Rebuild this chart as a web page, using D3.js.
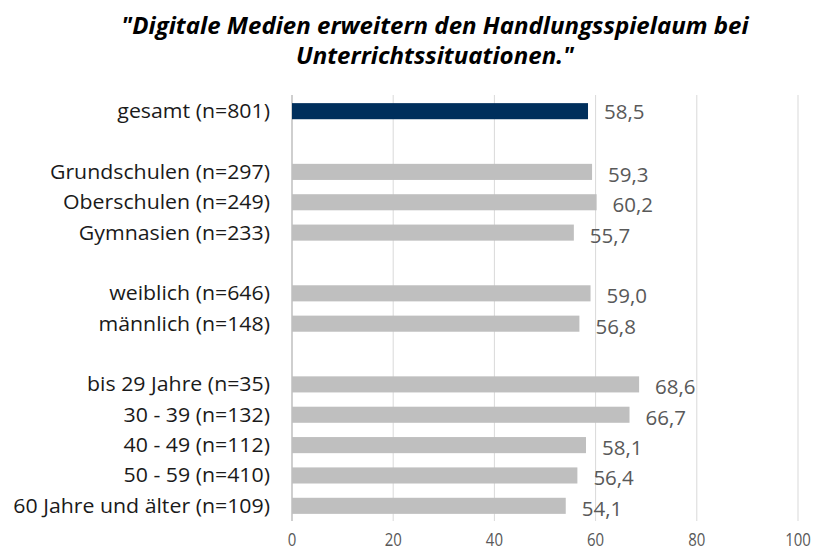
<!DOCTYPE html>
<html>
<head>
<meta charset="utf-8">
<title>Digitale Medien</title>
<script src="https://cdn.jsdelivr.net/npm/d3@7"></script>
<style>
body { margin: 0; background: #fff; }
text { font-family: 'Open Sans', sans-serif; }
</style>
</head>
<body>
<script>
// categories incl. blank spacer rows
var categories = ["gesamt (n=801)", "", "Grundschulen (n=297)", "Oberschulen (n=249)", "Gymnasien (n=233)", " ",
  "weiblich (n=646)", "männlich (n=148)", "  ",
  "bis 29 Jahre (n=35)", "30 - 39 (n=132)", "40 - 49 (n=112)", "50 - 59 (n=410)", "60 Jahre und älter (n=109)"];
var values = [58.5, null, 59.3, 60.2, 55.7, null, 59.0, 56.8, null, 68.6, 66.7, 58.1, 56.4, 54.1];
var ticks = [0, 20, 40, 60, 80, 100];
var titleLines = ['"Digitale Medien erweitern den Handlungsspielaum bei', 'Unterrichtssituationen."'];

var w = 815, h = 552;
var svg = d3.select("body").append("svg").attr("width", w).attr("height", h);

var x = d3.scaleLinear().domain([0, 100]).range([292, 798]);
var y = d3.scaleBand().domain(categories).range([96, 521]).paddingInner(0.47).paddingOuter(0.235);

// title (slightly stretched like the original)
svg.selectAll(".title").data(titleLines).enter().append("text")
  .attr("transform", function(d, i) { return "translate(435," + (34 + i * 30) + ") scale(1.07,1)"; })
  .attr("text-anchor", "middle")
  .attr("font-size", "22.5px").attr("font-weight", "bold").attr("font-style", "italic")
  .attr("fill", "#000")
  .text(function(d) { return d; });

// gridlines
svg.selectAll(".grid").data(ticks).enter().append("line")
  .attr("x1", x).attr("x2", x).attr("y1", 95).attr("y2", 521)
  .attr("stroke", function(d) { return d == 0 ? "#bfbfbf" : "#d9d9d9"; })
  .attr("stroke-width", function(d) { return d == 0 ? 1.5 : 1; });

// tick labels (tall, narrow)
svg.selectAll(".tick").data(ticks).enter().append("text")
  .attr("transform", function(d) { return "translate(" + x(d) + ",546) scale(1,1.2)"; })
  .attr("text-anchor", "middle").attr("font-size", "15px").attr("fill", "#595959")
  .text(function(d) { return d; });

var rows = categories.map(function(c, i) { return { cat: c, v: values[i], i: i }; })
  .filter(function(d) { return d.v != null; });

svg.selectAll(".bar").data(rows).enter().append("rect")
  .attr("x", x(0)).attr("y", function(d) { return y(d.cat); })
  .attr("height", y.bandwidth())
  .attr("width", function(d) { return x(d.v) - x(0); })
  .attr("fill", function(d) { return d.i == 0 ? "#002f5c" : "#bfbfbf"; });

// category labels
svg.selectAll(".cat").data(rows).enter().append("text")
  .attr("transform", function(d) { return "translate(270," + (y(d.cat) + y.bandwidth() / 2 + 7) + ") scale(1.065,1)"; })
  .attr("text-anchor", "end").attr("font-size", "20px").attr("fill", "#1a1a1a")
  .text(function(d) { return d.cat; });

// value labels
svg.selectAll(".val").data(rows).enter().append("text")
  .attr("x", function(d) { return x(d.v) + 16; })
  .attr("y", function(d) { return y(d.cat) + y.bandwidth() / 2 + (d.i == 0 ? 8 : 10); })
  .attr("font-size", "20.5px").attr("fill", "#595959")
  .text(function(d) { return d3.format(".1f")(d.v).replace(".", ","); });
</script>
</body>
</html>
